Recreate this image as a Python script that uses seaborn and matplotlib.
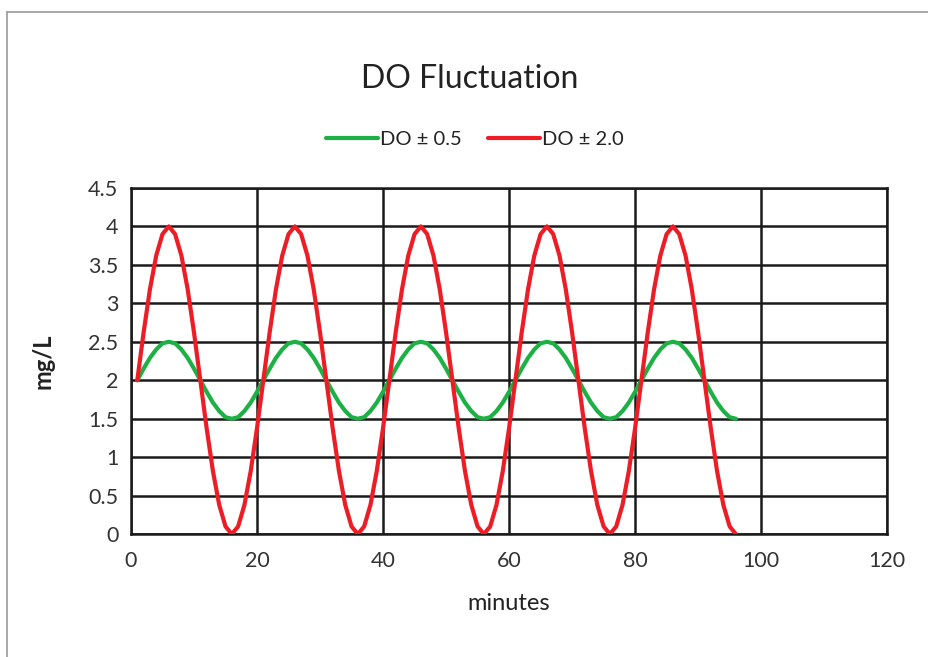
import pandas as pd
import matplotlib.pyplot as plt
import seaborn as sns
from matplotlib.lines import Line2D

# ==========================================
# Data
# ==========================================

minutes = list(range(1, 97))

do_05 = [
    2.00, 2.15, 2.29, 2.40, 2.48, 2.50, 2.48, 2.40, 2.29, 2.15,
    2.00, 1.85, 1.71, 1.60, 1.52, 1.50, 1.52, 1.60, 1.71, 1.85,
    2.00, 2.15, 2.29, 2.40, 2.48, 2.50, 2.48, 2.40, 2.29, 2.15,
    2.00, 1.85, 1.71, 1.60, 1.52, 1.50, 1.52, 1.60, 1.71, 1.85,
    2.00, 2.15, 2.29, 2.40, 2.48, 2.50, 2.48, 2.40, 2.29, 2.15,
    2.00, 1.85, 1.71, 1.60, 1.52, 1.50, 1.52, 1.60, 1.71, 1.85,
    2.00, 2.15, 2.29, 2.40, 2.48, 2.50, 2.48, 2.40, 2.29, 2.15,
    2.00, 1.85, 1.71, 1.60, 1.52, 1.50, 1.52, 1.60, 1.71, 1.85,
    2.00, 2.15, 2.29, 2.40, 2.48, 2.50, 2.48, 2.40, 2.29, 2.15,
    2.00, 1.85, 1.71, 1.60, 1.52, 1.50,
]

do_20 = [
    2.00, 2.62, 3.18, 3.62, 3.90, 4.00, 3.90, 3.62, 3.18, 2.62,
    2.00, 1.38, 0.82, 0.38, 0.10, 0.00, 0.10, 0.38, 0.82, 1.38,
    2.00, 2.62, 3.18, 3.62, 3.90, 4.00, 3.90, 3.62, 3.18, 2.62,
    2.00, 1.38, 0.82, 0.38, 0.10, 0.00, 0.10, 0.38, 0.82, 1.38,
    2.00, 2.62, 3.18, 3.62, 3.90, 4.00, 3.90, 3.62, 3.18, 2.62,
    2.00, 1.38, 0.82, 0.38, 0.10, 0.00, 0.10, 0.38, 0.82, 1.38,
    2.00, 2.62, 3.18, 3.62, 3.90, 4.00, 3.90, 3.62, 3.18, 2.62,
    2.00, 1.38, 0.82, 0.38, 0.10, 0.00, 0.10, 0.38, 0.82, 1.38,
    2.00, 2.62, 3.18, 3.62, 3.90, 4.00, 3.90, 3.62, 3.18, 2.62,
    2.00, 1.38, 0.82, 0.38, 0.10, 0.00,
]

series_names = ["DO \u00b1 0.5", "DO \u00b1 2.0"]
x_ticks = [0, 20, 40, 60, 80, 100, 120]
y_ticks = [0, 0.5, 1, 1.5, 2, 2.5, 3, 3.5, 4, 4.5]
y_tick_labels = ["0", "0.5", "1", "1.5", "2", "2.5", "3", "3.5", "4", "4.5"]

df = pd.DataFrame({
    "minutes": minutes * 2,
    "mg/L": do_05 + do_20,
    "series": [series_names[0]] * len(do_05) + [series_names[1]] * len(do_20),
})

# ==========================================
# Plot
# ==========================================

sns.set_style("white")
plt.rcParams["font.family"] = ["Lato", "DejaVu Sans"]

fig = plt.figure(figsize=(9.29, 6.57), dpi=100)
ax = fig.add_axes([0.141, 0.187, 0.814, 0.527])

sns.lineplot(
    data=df,
    x="minutes",
    y="mg/L",
    hue="series",
    palette=["#1db044", "#ee1c24"],
    linewidth=3,
    ax=ax,
    zorder=3,
)
for line in ax.lines:
    line.set_solid_joinstyle("round")
    line.set_solid_capstyle("round")

ax.set_xlim(0, 120)
ax.set_ylim(0, 4.5)
ax.set_xticks(x_ticks)
ax.set_yticks(y_ticks)
ax.set_yticklabels(y_tick_labels)
ax.tick_params(axis="x", length=0, pad=12, labelsize=15.5, colors="#333333")
ax.tick_params(axis="y", length=0, pad=9, labelsize=15.5, colors="#333333")

ax.grid(True, color="#1a1a1a", linewidth=1.8)
ax.set_axisbelow(True)
for s in ax.spines.values():
    s.set_color("#1a1a1a")
    s.set_linewidth(1.8)

ax.set_xlabel("minutes", fontsize=17, color="#222222", labelpad=16)
ax.set_ylabel("mg/L", fontsize=17, fontweight="bold", color="#222222", labelpad=24)

handles, labels = ax.get_legend_handles_labels()
ax.get_legend().remove()
leg = fig.legend(
    handles,
    labels,
    loc="center",
    bbox_to_anchor=(0.511, 0.788),
    ncol=2,
    frameon=False,
    fontsize=14.5,
    handlelength=2.6,
    handletextpad=0.1,
    columnspacing=1.3,
)
for t in leg.get_texts():
    t.set_color("#222222")

fig.text(0.506, 0.880, "DO Fluctuation", ha="center", va="center",
         fontsize=23, color="#222222")

# thin gray frame at top and left
fig.add_artist(Line2D([0.0075, 1.0], [0.982, 0.982], transform=fig.transFigure,
                      color="#999999", linewidth=1.2))
fig.add_artist(Line2D([0.0075, 0.0075], [0.0, 0.982], transform=fig.transFigure,
                      color="#999999", linewidth=1.2))

plt.savefig("out.png", dpi=100)
